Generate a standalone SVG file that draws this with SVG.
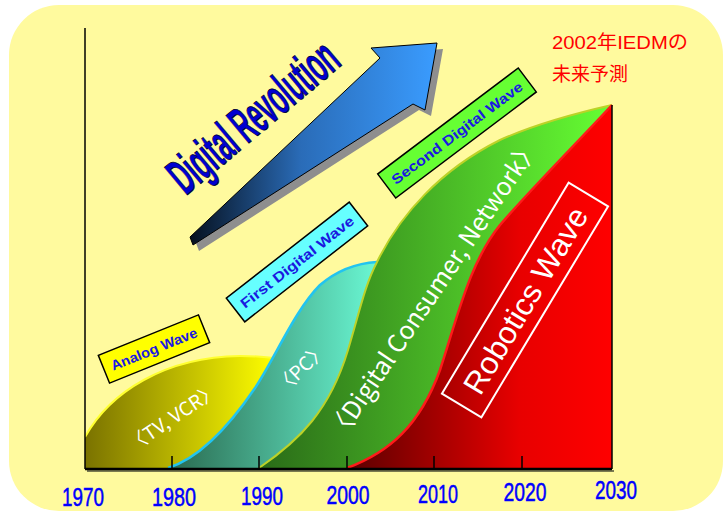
<svg xmlns="http://www.w3.org/2000/svg" width="727" height="513" viewBox="0 0 727 513">
  <defs>
    <linearGradient id="gYellow" gradientUnits="userSpaceOnUse" x1="85" y1="0" x2="275" y2="0">
      <stop offset="0" stop-color="#7A7200"/>
      <stop offset="1" stop-color="#FFFF00"/>
    </linearGradient>
    <linearGradient id="gCyan" gradientUnits="userSpaceOnUse" x1="170" y1="0" x2="378" y2="0">
      <stop offset="0" stop-color="#2A6A50"/>
      <stop offset="1" stop-color="#6AF8D4"/>
    </linearGradient>
    <linearGradient id="gGreen" gradientUnits="userSpaceOnUse" x1="259" y1="0" x2="612" y2="0">
      <stop offset="0" stop-color="#2A6A18"/>
      <stop offset="1" stop-color="#66FF33"/>
    </linearGradient>
    <linearGradient id="gRed" gradientUnits="userSpaceOnUse" x1="347" y1="0" x2="612" y2="0">
      <stop offset="0" stop-color="#5A0000"/>
      <stop offset="0.65" stop-color="#E80000"/>
      <stop offset="1" stop-color="#FF0000"/>
    </linearGradient>
    <linearGradient id="gArrow" gradientUnits="userSpaceOnUse" x1="190" y1="0" x2="437" y2="0">
      <stop offset="0" stop-color="#06101E"/>
      <stop offset="0.45" stop-color="#2A6CB8"/>
      <stop offset="1" stop-color="#3A9CFF"/>
    </linearGradient>
    <path id="arrowShape" d="M190,237 L380,58 L371,48 L437,43 L425,110 L413,104 L193,245 Z"/>
  </defs>
  <style>
    .bg { fill: #FFFA9E; }
    .axis { stroke: #000; fill: none; }
    .tick { stroke: #000; stroke-width: 1.5; }
    .year { font-family: "Liberation Sans", Arial, sans-serif; font-size: 26px; fill: #0000FF; stroke: #0000FF; stroke-width: 0.5; text-anchor: middle; }
    .tag { stroke: #000; stroke-width: 1.5; }
    .tagText { font-family: "Liberation Sans", Arial, sans-serif; font-weight: bold; font-size: 14px; fill: #1A1AE0; text-anchor: middle; dominant-baseline: central; }
    .waveText { font-family: "Noto Sans CJK JP", "Liberation Sans", sans-serif; fill: #FFFFFF; text-anchor: middle; dominant-baseline: central; }
    .note { font-family: "Liberation Sans", "Noto Sans CJK JP", sans-serif; font-size: 19px; fill: #FF0000; }
    .title { font-family: "Liberation Sans", Arial, sans-serif; font-weight: bold; font-size: 52px; fill: #0000D0; stroke: #00002A; stroke-width: 0.9; }
  </style>

  <!-- backdrop -->
  <rect class="bg" x="9" y="5" width="714" height="506" rx="50" ry="50"/>

  <!-- wave areas -->
  <g id="analog-wave">
    <path d="M85,468 L85,437 C110,392 165,357 240,356 C255,356 265,357 274,358 L274,468 Z" fill="url(#gYellow)"/>
    <path d="M85,437 C110,392 165,357 240,356 C255,356 265,357 274,358" fill="none" stroke="#FFFF30" stroke-width="2"/>
  </g>
  <g id="first-digital-wave">
    <path d="M168,468 C200,458 230,425 255,388 C275,358 295,310 320,285 C340,268 360,263 377,262 L377,468 Z" fill="url(#gCyan)"/>
    <path d="M168,468 C200,458 230,425 255,388 C275,358 295,310 320,285 C340,268 360,263 377,262" fill="none" stroke="#22C4F0" stroke-width="2.5"/>
  </g>
  <g id="second-digital-wave">
    <path d="M259,468 C300,440 330,410 348,350 C360,310 365,285 377,262 C400,215 440,170 500,140 C540,122 590,110 612,105 L612,468 Z" fill="url(#gGreen)"/>
    <path d="M259,468 C300,440 330,410 348,350 C360,310 365,285 377,262 C400,215 440,170 500,140 C540,122 590,110 612,105" fill="none" stroke="#BCD228" stroke-width="2"/>
  </g>
  <g id="robotics-wave">
    <path d="M347,468 C390,452 420,425 440,370 C458,315 470,262 500,225 C530,190 570,150 612,105 L612,468 Z" fill="url(#gRed)"/>
    <path d="M347,468 C390,452 420,425 440,370 C458,315 470,262 500,225 C530,190 570,150 612,105" fill="none" stroke="#FF1A1A" stroke-width="2.5"/>
  </g>

  <!-- axes and ticks -->
  <g id="axes">
    <line class="axis" x1="85" y1="28" x2="85" y2="469" stroke-width="1.5"/>
    <line x1="87" y1="471" x2="614" y2="471" stroke="#7A7A50" stroke-width="2"/>
    <line class="axis" x1="85" y1="469" x2="612" y2="469" stroke-width="2.5"/>
    <line class="axis" x1="612" y1="105" x2="612" y2="469" stroke-width="1.5"/>
    <line class="tick" x1="172" y1="456" x2="172" y2="468"/>
    <line class="tick" x1="259" y1="456" x2="259" y2="468"/>
    <line class="tick" x1="347" y1="456" x2="347" y2="468"/>
    <line class="tick" x1="434" y1="456" x2="434" y2="468"/>
    <line class="tick" x1="522" y1="456" x2="522" y2="468"/>
  </g>

  <g id="year-labels">
    <text class="year" x="83" y="506" textLength="42" lengthAdjust="spacingAndGlyphs">1970</text>
    <text class="year" x="174" y="506" textLength="44" lengthAdjust="spacingAndGlyphs">1980</text>
    <text class="year" x="262" y="505" textLength="42" lengthAdjust="spacingAndGlyphs">1990</text>
    <text class="year" x="348" y="504" textLength="43" lengthAdjust="spacingAndGlyphs">2000</text>
    <text class="year" x="438" y="503" textLength="40" lengthAdjust="spacingAndGlyphs">2010</text>
    <text class="year" x="525" y="501" textLength="43" lengthAdjust="spacingAndGlyphs">2020</text>
    <text class="year" x="616" y="499" textLength="42" lengthAdjust="spacingAndGlyphs">2030</text>
  </g>

  <!-- big trend arrow -->
  <g id="revolution-arrow">
    <use href="#arrowShape" transform="translate(6,6)" fill="#8E8E8E"/>
    <use href="#arrowShape" fill="url(#gArrow)" stroke="#000" stroke-width="1"/>
  </g>

  <g id="revolution-title">
    <text class="title" transform="translate(186,196) rotate(-40)" x="0" y="0" textLength="205" lengthAdjust="spacingAndGlyphs">Digital Revolution</text>
  </g>

  <!-- wave name tags -->
  <g id="tag-analog" transform="translate(154,349) rotate(-22)">
    <rect class="tag" x="-54" y="-15" width="108" height="30" fill="#FFFF00"/>
    <text class="tagText" x="0" y="0" textLength="92" lengthAdjust="spacingAndGlyphs">Analog Wave</text>
  </g>
  <g id="tag-first" transform="translate(297,262) rotate(-38)">
    <rect class="tag" x="-78" y="-15" width="156" height="30" fill="#66FFFF"/>
    <text class="tagText" x="0" y="0" textLength="140" lengthAdjust="spacingAndGlyphs">First Digital Wave</text>
  </g>
  <g id="tag-second" transform="translate(457,133) rotate(-37)">
    <rect class="tag" x="-88" y="-15" width="176" height="30" fill="#66FF33"/>
    <text class="tagText" x="0" y="0" textLength="160" lengthAdjust="spacingAndGlyphs">Second Digital Wave</text>
  </g>

  <!-- labels inside the waves -->
  <g id="label-tv">
    <text class="waveText" transform="translate(172,416) rotate(-34)" font-size="19" textLength="106" lengthAdjust="spacingAndGlyphs">〈TV, VCR〉</text>
  </g>
  <g id="label-pc">
    <text class="waveText" transform="translate(300,367) rotate(-44)" font-size="19" textLength="64" lengthAdjust="spacingAndGlyphs">〈PC〉</text>
  </g>
  <g id="label-consumer">
    <text class="waveText" transform="translate(432,288) rotate(-56)" font-size="25" textLength="356" lengthAdjust="spacingAndGlyphs">〈Digital Consumer, Network〉</text>
  </g>
  <g id="label-robotics" transform="translate(525,300) rotate(-59)">
    <rect x="-123" y="-23" width="246" height="46" fill="none" stroke="#FFFFFF" stroke-width="2"/>
    <text class="waveText" x="0" y="1" style="font-family: 'Liberation Sans', Arial, sans-serif" font-size="31" textLength="212" lengthAdjust="spacingAndGlyphs">Robotics Wave</text>
  </g>

  <!-- source note -->
  <g id="forecast-note">
    <text class="note" x="552" y="49" textLength="136" lengthAdjust="spacingAndGlyphs">2002年IEDMの</text>
    <text class="note" x="552" y="81">未来予測</text>
  </g>
</svg>
